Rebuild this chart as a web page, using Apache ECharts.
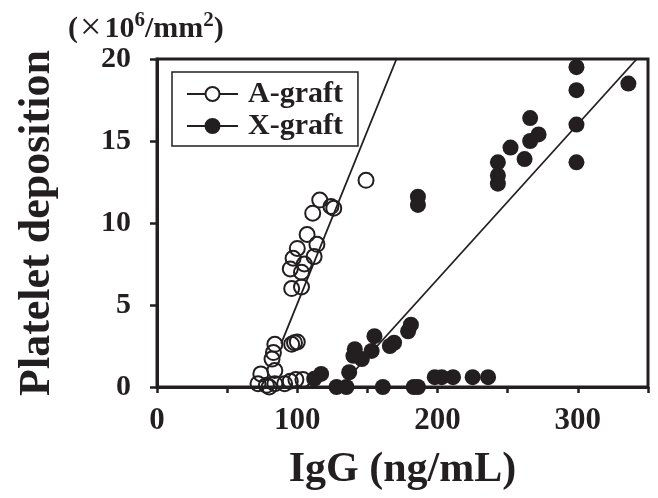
<!DOCTYPE html>
<html><head><meta charset="utf-8">
<script src="https://cdn.jsdelivr.net/npm/echarts@6/dist/echarts.min.js"></script>
<style>html,body{margin:0;padding:0;background:#fff}#c{width:658px;height:498px}</style>
</head><body><div id="c"></div>
<script>
// A-graft (open circles): [IgG ng/mL, platelet deposition x10^6/mm^2]
const aGraft = [
  [72,0.2],[74,0.8],[78,0.1],[80,0],[82,1.7],[83,2.1],[84,2.6],[84,1.0],[84,0.2],
  [91,0.2],[95,0.35],[96,2.6],[98,2.7],[100,2.75],[99,0.45],[104,0.45],
  [96,6.0],[103,6.1],[95,7.2],[103,7.0],[105,7.5],[97,7.85],[112,7.95],[100,8.45],
  [114,8.7],[107,9.3],[111,10.6],[116,11.4],[124,11.0],[126,10.9],[149,12.6]
];
// X-graft (filled circles)
const xGraft = [
  [112,0.5],[117,0.8],[128,0],[135,0],[137,0.9],[140,1.9],[141,2.3],[146,1.7],[153,2.2],
  [155,3.1],[161,0],[166,2.5],[169,2.7],[179,3.4],[181,3.8],[183,0],[186,0],
  [186,11.1],[186,11.6],[198,0.6],[203,0.6],[211,0.6],[225,0.6],[236,0.6],
  [243,12.4],[243,12.9],[243,13.7],[252,14.6],[262,13.9],[266,15.0],[266,16.4],[272,15.4],
  [299,13.7],[299,16.0],[299,18.1],[299,19.5],[336,18.5]
];
// regression line end points
const aFit = [[88.5,2.65],[170.7,20]];
const xFit = [[140,0.9],[342,20]];
const seriesNames = ['A-graft','X-graft'];
const xLabels = [0,100,200,300];
const yLabels = [0,5,10,15,20];

const ink = '#231f20';
const font = 'Liberation Serif';
const iconPath = 'path://M0,7L18.5,7M32.5,7L51,7M32.5,7A7,7 0 1,1 18.5,7A7,7 0 1,1 32.5,7Z';

const chart = echarts.init(document.getElementById('c'), null, {renderer:'canvas'});
chart.setOption({
  backgroundColor:'#fff',
  animation:false,
  textStyle:{fontFamily:font, fontWeight:'bold', color:ink},
  title:{
    text:'({x|×}10{s|6}/mm{s|2})', left:63, top:5,
    textStyle:{fontFamily:font, fontWeight:'bold', fontSize:30, color:ink,
      rich:{
        x:{fontFamily:font, fontWeight:'normal', fontSize:38, color:ink, padding:[0,3,0,2]},
        s:{fontFamily:font, fontWeight:'bold', fontSize:21, color:ink, verticalAlign:'top', lineHeight:21, padding:[0,0,12,0]}
      }}
  },
  grid:{left:157, right:10, top:59, bottom:111, show:true, borderColor:ink, borderWidth:3, backgroundColor:'transparent'},
  legend:{
    left:172, top:72, orient:'vertical', itemWidth:51, itemHeight:14, itemGap:2,
    padding:[7,15,5,14], borderColor:ink, borderWidth:1.5,
    textStyle:{fontFamily:font, fontWeight:'bold', fontSize:30, color:ink, padding:[0,0,0,5]},
    data:[
      {name:seriesNames[0], icon:iconPath, itemStyle:{color:'#fff', borderColor:ink, borderWidth:2, opacity:1}},
      {name:seriesNames[1], icon:iconPath, itemStyle:{color:ink, borderColor:ink, borderWidth:2, opacity:1}}
    ]
  },
  xAxis:{
    type:'value', min:0, max:350, interval:50,
    name:'IgG (ng/mL)', nameLocation:'middle', nameGap:62,
    nameTextStyle:{fontFamily:font, fontWeight:'bold', fontSize:42, color:ink},
    axisLine:{lineStyle:{color:ink, width:3}},
    axisTick:{length:6, lineStyle:{color:ink, width:2.5}},
    splitLine:{show:false},
    axisLabel:{fontFamily:font, fontWeight:'bold', fontSize:31, color:ink, margin:18,
      formatter:v => xLabels.includes(v) ? String(v) : ''}
  },
  yAxis:{
    type:'value', min:0, max:20, interval:5,
    name:'Platelet deposition', nameLocation:'middle', nameGap:97, nameRotate:90,
    nameTextStyle:{fontFamily:font, fontWeight:'bold', fontSize:44, color:ink},
    axisLine:{lineStyle:{color:ink, width:3}},
    axisTick:{length:7, lineStyle:{color:ink, width:2.5}},
    splitLine:{show:false},
    axisLabel:{fontFamily:font, fontWeight:'bold', fontSize:30, color:ink, margin:26,
      formatter:v => yLabels.includes(v) ? String(v) : ''}
  },
  series:[
    {type:'line', name:'A-fit', data:aFit, showSymbol:false, symbol:'none', lineStyle:{color:ink, width:1.8}, z:1, silent:true},
    {type:'line', name:'X-fit', data:xFit, showSymbol:false, symbol:'none', lineStyle:{color:ink, width:1.8}, z:1, silent:true},
    {type:'scatter', name:seriesNames[0], data:aGraft, symbol:'circle', symbolSize:15,
      itemStyle:{color:'rgba(255,255,255,0)', borderColor:ink, borderWidth:2, opacity:1}, z:3},
    {type:'scatter', name:seriesNames[1], data:xGraft, symbol:'circle', symbolSize:16,
      itemStyle:{color:ink, borderColor:ink, borderWidth:0, opacity:1}, z:4}
  ]
});
</script></body></html>
